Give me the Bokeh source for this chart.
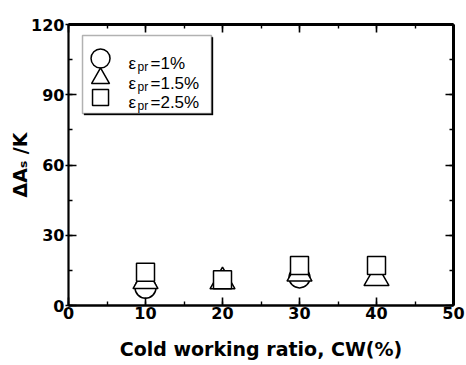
from bokeh.plotting import figure
from bokeh.models import Label, BoxAnnotation, LinearAxis, SingleIntervalTicker, Range1d
from bokeh.embed import file_html
from bokeh.resources import INLINE

# ---- data ----
cw = [10, 20, 30, 40]
dAs_eps1 = [7.6, float("nan"), 12.0, float("nan")]
dAs_eps15 = [10.3, 10.2, 13.5, 11.6]
dAs_eps25 = [14.2, 11.0, 17.1, 17.1]
eps_labels = ["=1%", "=1.5%", "=2.5%"]
markers = ["circle", "triangle", "square"]
x_tick_interval = 10
y_tick_interval = 30

FONT = "Liberation Sans"
BOLD = "DejaVu Sans"

p = figure(width=466, height=365, x_range=Range1d(0, 50), y_range=Range1d(0, 120),
           output_backend="svg", toolbar_location=None,
           min_border_left=68, min_border_right=13, min_border_top=24, min_border_bottom=60,
           x_axis_location=None, y_axis_location=None)
p.xgrid.visible = False
p.ygrid.visible = False
p.outline_line_color = None
p.background_fill_color = "white"
p.border_fill_color = "white"


def make_axis(interval, show_labels, tick_out, line_width, standoff=0):
    ax = LinearAxis(ticker=SingleIntervalTicker(interval=interval, num_minor_ticks=2))
    ax.major_tick_in = 8
    ax.major_tick_out = tick_out
    ax.minor_tick_in = 4
    ax.minor_tick_out = 0
    ax.axis_line_width = line_width
    ax.axis_line_color = "black"
    ax.major_tick_line_color = "black"
    ax.minor_tick_line_color = "black"
    ax.major_tick_line_width = 1.6
    ax.minor_tick_line_width = 1.4
    if show_labels:
        ax.major_label_text_font = BOLD
        ax.major_label_text_font_style = "bold"
        ax.major_label_text_font_size = "16px"
        ax.major_label_text_color = "black"
        ax.major_label_standoff = standoff
    else:
        ax.major_label_overrides = {v: "" for v in range(-interval, 7 * interval, interval)}
        ax.major_label_standoff = 0
    return ax


bottom = make_axis(x_tick_interval, True, 0, 2.5, standoff=1)
bottom.axis_label = "Cold working ratio, CW(%)"
bottom.axis_label_text_font = BOLD
bottom.axis_label_text_font_style = "bold"
bottom.axis_label_text_font_size = "19px"
bottom.axis_label_text_color = "black"
bottom.axis_label_standoff = 16
p.add_layout(bottom, "below")

left = make_axis(y_tick_interval, True, 3, 2.2, standoff=1)
left.axis_label = "ΔAₛ /K"
left.axis_label_text_font = BOLD
left.axis_label_text_font_style = "bold"
left.axis_label_text_font_size = "19px"
left.axis_label_text_color = "black"
left.axis_label_standoff = -3
p.add_layout(left, "left")

top = make_axis(x_tick_interval, False, 0, 3)
p.add_layout(top, "above")
right = make_axis(y_tick_interval, False, 0, 3)
p.add_layout(right, "right")

# ---- legend box (drawn by hand so the labels can carry subscripts) ----
box_left, box_right, box_top, box_bottom = 1.82, 18.57, 115.3, 82.0
shadow = BoxAnnotation(left=box_left + 0.2, right=box_right + 0.2, top=box_top - 0.7,
                       bottom=box_bottom - 0.7, fill_color="black", fill_alpha=1.0,
                       line_color="black", line_width=1, level="underlay")
box = BoxAnnotation(left=box_left, right=box_right, top=box_top, bottom=box_bottom,
                    fill_color="white", fill_alpha=1.0, line_color="black", line_width=1.5,
                    level="underlay")
p.add_layout(shadow)
p.add_layout(box)

# ---- data markers ----
style = dict(fill_color="white", line_color="black", line_width=1.5)
p.scatter(cw, dAs_eps1, marker="circle", size=21, **style)
p.scatter(cw, dAs_eps15, marker="triangle", size=25, **style)
p.scatter(cw, dAs_eps25, marker="square", size=18, **style)

# ---- legend keys and texts ----
row_y = [103.3, 94.8, 86.7]          # text baselines of the three legend rows
key_y = [105.5, 97.0, 88.8]          # centres of the legend keys
key_x = box_left + 2.34
key_sizes = [19, 18, 16]
for m, ky, ks in zip(markers, key_y, key_sizes):
    p.scatter([key_x], [ky], marker=m, size=ks, **style)

for yb, lab in zip(row_y, eps_labels):
    p.add_layout(Label(x=7.79, y=yb, text="ε", text_font=FONT, text_font_size="17px",
                       text_color="black", text_baseline="alphabetic"))
    p.add_layout(Label(x=8.96, y=yb - 1.4, text="pr", text_font=FONT, text_font_size="12px",
                       text_color="black", text_baseline="alphabetic"))
    p.add_layout(Label(x=10.65, y=yb, text=lab, text_font=FONT, text_font_size="17px",
                       text_color="black", text_baseline="alphabetic"))

open("out.html", "w").write(file_html(p, INLINE))
